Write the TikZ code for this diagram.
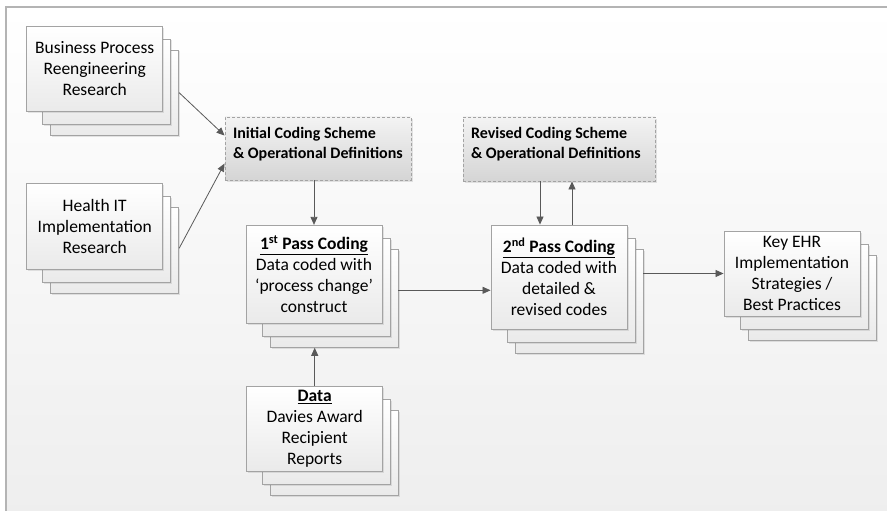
\documentclass[tikz,border=0pt]{standalone}
\usepackage{fontspec}
\setmainfont{Carlito}
\usetikzlibrary{arrows.meta,calc,shadows}

\definecolor{edgegray}{HTML}{A3A3A3}
\definecolor{linkgray}{HTML}{595959}
\definecolor{framegray}{HTML}{B4B4B4}
\definecolor{pagegray}{HTML}{EEEEEE}
\definecolor{cardgray}{HTML}{EAEAEA}
\definecolor{schemetop}{HTML}{F3F3F3}
\definecolor{schemebot}{HTML}{D5D5D5}

\tikzset{
	card/.style={draw=edgegray, line width=0.9pt, top color=white, bottom color=cardgray,
		drop shadow={shadow xshift=1.5pt, shadow yshift=-1.5pt, opacity=0.2}},
	front/.style={card, minimum width=136pt, align=center, inner sep=0pt,
		font=\fontsize{17.5}{21}\selectfont},
	scheme/.style={draw=edgegray, line width=0.9pt, dash pattern=on 3pt off 2pt,
		top color=schemetop, bottom color=schemebot, inner sep=8pt,
		font=\fontsize{16}{20}\selectfont\bfseries,
		drop shadow={shadow xshift=1.5pt, shadow yshift=-1.5pt, opacity=0.2}},
	link/.style={draw=linkgray, line width=0.8pt, -{Triangle[length=8pt,width=7pt]}}
}

% the two cards behind a front card, given its corners
\newcommand{\backcards}[2]{
	\draw[card] ($#1+(24,24)$) rectangle ($#2+(16,24)$);
	\draw[card] ($#1+(16,13)$) rectangle ($#2+(8,13)$);
}

\begin{document}
\begin{tikzpicture}[x=1pt,y=-1pt]
	
	\useasboundingbox (0,0) rectangle (887,511);
	\draw[framegray, line width=1.5pt, top color=white, bottom color=pagegray] (6,7) rectangle (895,520);
	
	% sources
	\backcards{(26.7,26)}{(162.7,111.3)}
	\node [front, minimum height=85pt] (bpr) at (94.7,68.7) {Business Process\\Reengineering\\Research};
	
	\backcards{(26.7,183.3)}{(162.7,269.3)}
	\node [front, minimum height=86pt] (hit) at (94.7,226.3) {Health IT\\Implementation\\Research};
	
	% coding schemes
	\node [scheme] (init) at (318,148.5) {\parbox[c][47pt][t]{170pt}{\vspace*{2pt}Initial Coding Scheme\\\& Operational Definitions}};
	\node [scheme] (rev) at (559,149) {\parbox[c][48pt][t]{176pt}{\vspace*{2pt}Revised Coding Scheme\\\& Operational Definitions}};
	
	% coding passes
	\backcards{(246,225.3)}{(382,323.3)}
	\node [front, minimum height=98pt] (p1) at (314,274.3) {\underline{\textbf{1\textsuperscript{st} Pass Coding}}\\Data coded with\\‘process change’\\construct};
	
	\backcards{(246.7,386)}{(382.7,471)}
	\node [front, minimum height=85pt] (data) at (314.7,428.5) {\underline{\textbf{Data}}\\Davies Award\\Recipient\\Reports};
	
	\backcards{(491,225)}{(627,329)}
	\node [front, minimum height=104pt] (p2) at (559,277) {\underline{\textbf{2\textsuperscript{nd} Pass Coding}}\\Data coded with\\detailed \&\\revised codes};
	
	\backcards{(724,231)}{(860,316)}
	\node [front, minimum height=85pt] (key) at (792,273.5) {Key EHR\\Implementation\\Strategies /\\Best Practices};
	
	% connectors
	\draw [link] ($(bpr.east)+(16,24)$) -- ($(init.west)+(0,-13)$);
	\draw [link] ($(hit.east)+(16,22)$) -- ($(init.west)+(0,15)$);
	\draw [link] (p1.north |- init.south) -- (p1.north);
	\draw [link] (data.north) -- ($(data.north |- p1.south)+(0,24)$);
	
	\coordinate (p1r) at ($(p1.east)+(16,16)$);
	\draw [link] (p1r) -- (p1r -| p2.west);
	
	\draw [link] ($(rev.south)+(-19,0)$) -- ($(p2.north)+(-19,0)$);
	\draw [link] ($(p2.north)+(13,0)$) -- ($(rev.south)+(13,0)$);
	
	\coordinate (p2r) at ($(p2.east)+(16,0)$);
	\draw [link] (p2r |- key.west) -- (key.west);
	
\end{tikzpicture}
\end{document}
